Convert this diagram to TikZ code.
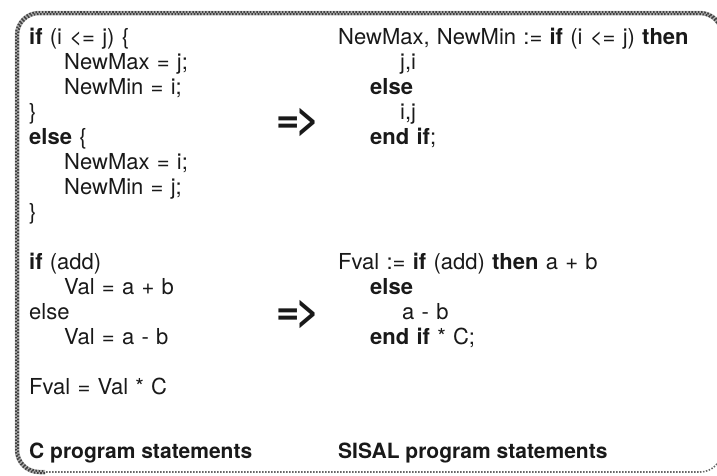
\documentclass[tikz,border=0pt]{standalone}
\usepackage{fontspec}
\setmainfont{TeX Gyre Heros}
\newcommand{\codefont}{\fontsize{22}{25}\selectfont\spaceskip=0.33em plus 0.1em\relax}
\newcommand{\capfont}{\fontsize{21}{25}\selectfont\bfseries}
\newcommand{\implies}{=\kern-3pt>}
\begin{document}
\begin{tikzpicture}[x=1pt,y=-1pt,
  code/.style={anchor=base west, inner sep=0pt, font=\codefont, text=black!90},
  caption/.style={anchor=base west, inner sep=0pt, font=\capfont, text=black!90},
  impl/.style={anchor=center, inner sep=0pt, font=\fontsize{40}{40}\selectfont\bfseries, text=black!90},
  frameA/.style={line width=2pt, black!75, dash pattern=on 1.6pt off 1.6pt},
  frameB/.style={line width=2pt, black!75, dash pattern=on 1.6pt off 1.6pt, dash phase=1.6pt},
  frameBase/.style={line width=4.5pt, black!30},
  frameThin/.style={line width=1.6pt, black!60, dash pattern=on 1.5pt off 1.5pt}]
\useasboundingbox (0,0) rectangle (717,475);

% frame: heavy checkered rule on left and top, light dotted rule along the bottom
\draw[frameThin, rounded corners=22pt] (40,472) -| (722,300);
\draw[frameBase, rounded corners=22pt] (45,472) -| (17,13) -| (722,200);
\draw[frameA, rounded corners=23pt] (45,473) -| (16,12) -| (723,200);
\draw[frameB, rounded corners=21pt] (45,471) -| (18,14) -| (721,200);

% first example: C if/else
\node[code] (c1) at (29,44)  {\textbf{if} (i <= j) \{};
\node[code] (c2) at (64,69)  {NewMax = j;};
\node[code] (c3) at (64,94)  {NewMin = i;};
\node[code] (c4) at (29,119) {\}};
\node[code] (c5) at (29,144) {\textbf{else} \{};
\node[code] (c6) at (64,169) {NewMax = i;};
\node[code] (c7) at (64,194) {NewMin = j;};
\node[code] (c8) at (29,219) {\}};

\node[impl] (arrowA) at (298,122) {\implies};

% first example: SISAL
\node[code] (s1) at (338,44)  {NewMax, NewMin := \textbf{if} (i <= j) \textbf{then}};
\node[code] (s2) at (400,69)  {j,i};
\node[code] (s3) at (370,94)  {\textbf{else}};
\node[code] (s4) at (400,119) {i,j};
\node[code] (s5) at (370,144) {\textbf{end if};};

% second example: C
\node[code] (d1) at (29,269) {\textbf{if} (add)};
\node[code] (d2) at (64,294) {Val = a + b};
\node[code] (d3) at (29,319) {else};
\node[code] (d4) at (64,344) {Val = a - b};
\node[code] (d5) at (29,394) {Fval = Val * C};

\node[impl] (arrowB) at (298,314) {\implies};

% second example: SISAL
\node[code] (t1) at (338,269) {Fval := \textbf{if} (add) \textbf{then} a + b};
\node[code] (t2) at (370,294) {\textbf{else}};
\node[code] (t3) at (402,319) {a - b};
\node[code] (t4) at (370,344) {\textbf{end if} * C;};

% column captions
\node[caption] (capC) at (29,458)  {C program statements};
\node[caption] (capS) at (338,458) {SISAL program statements};
\end{tikzpicture}
\end{document}
